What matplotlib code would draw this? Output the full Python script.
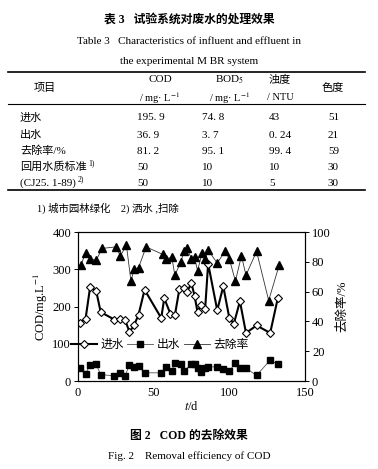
import matplotlib
matplotlib.use("Agg")
import matplotlib.pyplot as plt
from matplotlib.lines import Line2D
from matplotlib.text import Annotation

plt.rcParams['font.family'] = ['Liberation Serif', 'Noto Sans CJK SC']
plt.rcParams['mathtext.fontset'] = 'stix'

# table 3
row_names = ["进水", "出水", "去除率/%", "回用水质标准", "(CJ25. 1-89)"]
row_notes = ["", "", "", "1)", "2)"]
cod_vals = ["195. 9", "36. 9", "81. 2", "50", "50"]
bod_vals = ["74. 8", "3. 7", "95. 1", "10", "10"]
ntu_vals = ["43", "0. 24", "99. 4", "10", "5"]
color_vals = ["51", "21", "59", "30", "30"]

# fig 2 data
days_in = [1, 5, 8, 12, 15, 24, 28, 31, 34, 37, 40, 44, 55, 57, 61, 64, 67, 70, 72,
           75, 77, 79, 81, 84, 86, 92, 96, 100, 103, 107, 111, 118, 127, 132]
cod_in = [156, 167, 252, 242, 185, 165, 167, 165, 132, 149, 178, 245, 169, 222, 181,
          176, 247, 251, 240, 262, 229, 185, 203, 193, 315, 190, 254, 169, 154, 214,
          129, 149, 129, 222]
days_out = [1, 5, 8, 12, 15, 24, 28, 31, 34, 37, 40, 44, 55, 58, 62, 64, 68, 70, 75,
            77, 79, 81, 84, 86, 92, 96, 100, 104, 107, 111, 118, 127, 132]
cod_out = [34, 20, 43, 45, 17, 14, 22, 13, 43, 38, 40, 22, 22, 38, 27, 49, 45, 27, 45,
           45, 34, 23, 34, 38, 38, 32, 26, 49, 34, 34, 15, 56, 45]
days_rate = [2, 5, 8, 12, 16, 25, 28, 32, 35, 37, 40, 45, 56, 58, 62, 64, 68, 70, 72,
             75, 77, 79, 82, 84, 86, 92, 97, 100, 104, 108, 111, 118, 126, 133]
rate = [78, 86, 82, 81, 89, 90, 84, 91, 67, 75, 76, 90, 85, 82, 83, 71, 80, 87, 89,
        82, 83, 74, 86, 82, 88, 79, 87, 82, 67, 84, 71, 87, 54, 78]

W, H = 378, 469
fig = plt.figure(figsize=(W / 100, H / 100), dpi=100)

def fy(py):
    return 1 - py / H

def fx(px):
    return px / W

# captions of the table
fig.text(fx(189), fy(20), "表 3   试验系统对废水的处理效果", ha='center', va='center',
         fontsize=8.5, fontweight='bold')
fig.text(fx(189), fy(42), "Table 3   Characteristics of influent and effluent in",
         ha='center', va='center', fontsize=8)
fig.text(fx(189), fy(62), "the experimental M BR system", ha='center', va='center',
         fontsize=8)

for py, lw in [(72, 1.2), (104, 0.8), (190, 1.2)]:
    fig.add_artist(Line2D([fx(8), fx(365)], [fy(py), fy(py)], color='black', lw=lw))

fig.text(fx(45), fy(88), "项目", ha='center', va='center', fontsize=8)
fig.text(fx(160), fy(80), "COD", ha='center', va='center', fontsize=8)
fig.text(fx(160), fy(98), "/ mg· L$^{-1}$", ha='center', va='center', fontsize=7.5)
fig.text(fx(230), fy(80), "BOD$_5$", ha='center', va='center', fontsize=8)
fig.text(fx(230), fy(98), "/ mg· L$^{-1}$", ha='center', va='center', fontsize=7.5)
fig.text(fx(280), fy(80), "浊度", ha='center', va='center', fontsize=8)
fig.text(fx(280), fy(98), "/ NTU", ha='center', va='center', fontsize=7.5)
fig.text(fx(333), fy(88), "色度", ha='center', va='center', fontsize=8)

row_y = [118, 135, 151, 167, 183]
for i, py in enumerate(row_y):
    t = fig.text(fx(20), fy(py), row_names[i], ha='left', va='center', fontsize=8)
    if row_notes[i]:
        fig.add_artist(Annotation(row_notes[i], xy=(1, 1), xycoords=t, xytext=(1, 2),
                                  textcoords='offset points', fontsize=5.5,
                                  ha='left', va='top'))
    fig.text(fx(137), fy(py), cod_vals[i], ha='left', va='center', fontsize=8)
    fig.text(fx(202), fy(py), bod_vals[i], ha='left', va='center', fontsize=8)
    fig.text(fx(269), fy(py), ntu_vals[i], ha='left', va='center', fontsize=8)
    fig.text(fx(328), fy(py), color_vals[i], ha='left', va='center', fontsize=8)

fig.text(fx(37), fy(208), "1) 城市园林绿化    2) 洒水 ,扫除", ha='left', va='center',
         fontsize=7.5)

# chart
ax = fig.add_axes([fx(78), fy(381), fx(305) - fx(78), (381 - 232) / H])
ax2 = ax.twinx()

l1, = ax.plot(days_in, cod_in, color='black', lw=1.5, marker='D', ms=4,
              mfc='white', mec='black', mew=0.8, label='进水')
l2, = ax.plot(days_out, cod_out, color='#555555', lw=0.6, marker='s', ms=5,
              mfc='black', mec='black', label='出水')
l3, = ax2.plot(days_rate, rate, color='#333333', lw=0.6, marker='^', ms=6,
               mfc='black', mec='black', label='去除率')

ax.set_xlim(0, 150)
ax.set_ylim(0, 400)
ax2.set_ylim(0, 100)
ax.set_xticks([0, 50, 100, 150])
ax.set_yticks([0, 100, 200, 300, 400])
ax2.set_yticks([0, 20, 40, 60, 80, 100])
for a in (ax, ax2):
    a.tick_params(labelsize=9, length=3, width=0.7, direction='out', pad=2)
    for s in a.spines.values():
        s.set_linewidth(0.8)
ax.tick_params(axis='x', length=0, pad=4)

ax.set_xlabel("$\\mathit{t}$/d", fontsize=9, labelpad=1)
ax.set_ylabel("COD/mg.L$^{-1}$", fontsize=9, labelpad=2)
ax2.set_ylabel("去除率/%", fontsize=9, labelpad=4)

ax.legend(handles=[l1, l2, l3], loc='center', bbox_to_anchor=(0.36, 0.24), ncol=3,
          frameon=False, fontsize=8.5, handlelength=2.2, handletextpad=0.3,
          columnspacing=0.3, borderaxespad=0)

fig.text(fx(189), fy(436), "图 2   COD 的去除效果", ha='center', va='center',
         fontsize=8.5, fontweight='bold')
fig.text(fx(189), fy(456), "Fig. 2    Removal efficiency of COD", ha='center',
         va='center', fontsize=8)

fig.savefig("out.png", dpi=100)
